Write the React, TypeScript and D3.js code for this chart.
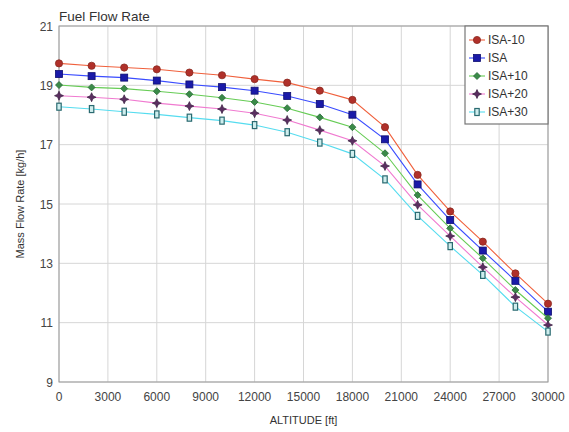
import React from "react";
import * as d3 from "d3";

const altitudes = [0, 2000, 4000, 6000, 8000, 10000, 12000, 14000, 16000, 18000, 20000, 22000, 24000, 26000, 28000, 30000];
const isaM10 = [19.74, 19.66, 19.6, 19.54, 19.43, 19.34, 19.21, 19.09, 18.82, 18.51, 17.59, 15.98, 14.75, 13.73, 12.66, 11.64];
const isa = [19.38, 19.31, 19.26, 19.16, 19.03, 18.94, 18.82, 18.64, 18.37, 18.01, 17.18, 15.66, 14.46, 13.43, 12.41, 11.37];
const isaP10 = [19.01, 18.93, 18.89, 18.8, 18.7, 18.58, 18.44, 18.23, 17.92, 17.59, 16.71, 15.3, 14.18, 13.17, 12.1, 11.15];
const isaP20 = [18.65, 18.6, 18.53, 18.4, 18.3, 18.2, 18.06, 17.83, 17.49, 17.13, 16.28, 14.97, 13.92, 12.87, 11.86, 10.92];
const isaP30 = [18.28, 18.2, 18.11, 18.02, 17.91, 17.81, 17.66, 17.42, 17.07, 16.69, 15.83, 14.6, 13.58, 12.61, 11.54, 10.7];
const seriesNames = ["ISA-10", "ISA", "ISA+10", "ISA+20", "ISA+30"];
const xTicks = [0, 3000, 6000, 9000, 12000, 15000, 18000, 21000, 24000, 27000, 30000];
const yTicks = [9, 11, 13, 15, 17, 19, 21];

const seriesData = [isaM10, isa, isaP10, isaP20, isaP30];
const lineColors = ["#f0603c", "#3a4cff", "#66cc55", "#f07ad0", "#55dcef"];
const markerFill = ["#b0302a", "#1a1aa8", "#3a8a48", "#5a2e60", "#4a9aa0"];
const markerStroke = ["#8a2a20", "#0e0e70", "#2a6a38", "#3a1e40", "#2a6a70"];
const markerTypes = ["circle", "square", "diamond", "star", "rect"];

function Marker({ type, x, y, fill, stroke }: { type: string; x: number; y: number; fill: string; stroke: string }) {
  if (type === "circle") return <circle cx={x} cy={y} r={3.6} fill={fill} stroke={stroke} strokeWidth={0.8} />;
  if (type === "square") return <rect x={x - 3.5} y={y - 3.5} width={7} height={7} fill={fill} stroke={stroke} strokeWidth={0.8} />;
  if (type === "diamond") {
    const s = 3.5;
    return <path d={`M${x},${y - s}L${x + s},${y}L${x},${y + s}L${x - s},${y}Z`} fill={fill} stroke={stroke} strokeWidth={0.8} />;
  }
  if (type === "star") {
    const o = 4.5, i = 1.4;
    const d = `M${x},${y - o}L${x + i},${y - i}L${x + o},${y}L${x + i},${y + i}L${x},${y + o}L${x - i},${y + i}L${x - o},${y}L${x - i},${y - i}Z`;
    return <path d={d} fill={fill} stroke={stroke} strokeWidth={0.7} />;
  }
  return <rect x={x - 2.2} y={y - 3.5} width={4.4} height={7} fill="#cfeeee" stroke={stroke} strokeWidth={1.2} />;
}

export default function App() {
  const W = 569, H = 432;
  const m = { left: 59, right: 548, top: 26, bottom: 382 };
  const x = d3.scaleLinear().domain([0, 30000]).range([m.left, m.right]);
  const y = d3.scaleLinear().domain([9, 21]).range([m.bottom, m.top]);
  const line = d3.line<[number, number]>().x((d) => x(d[0])).y((d) => y(d[1]));
  const font = "'Liberation Sans', Arial, sans-serif";

  return (
    <svg width={W} height={H} style={{ position: "absolute", left: 0, top: 0, background: "#fff" }} fontFamily={font}>
      <rect x={0} y={0} width={W} height={H} fill="#fff" />
      {xTicks.map((t) => (
        <line key={"gx" + t} x1={x(t)} x2={x(t)} y1={m.top} y2={m.bottom} stroke="#d6d6d6" strokeWidth={1} />
      ))}
      {yTicks.map((t) => (
        <line key={"gy" + t} x1={m.left} x2={m.right} y1={y(t)} y2={y(t)} stroke="#d6d6d6" strokeWidth={1} />
      ))}
      <rect x={m.left} y={m.top} width={m.right - m.left} height={m.bottom - m.top} fill="none" stroke="#999" strokeWidth={1} />
      {xTicks.map((t) => (
        <text key={"tx" + t} x={x(t)} y={m.bottom + 19} textAnchor="middle" fontSize={12} fill="#444">{t}</text>
      ))}
      {yTicks.map((t) => (
        <text key={"ty" + t} x={m.left - 6} y={y(t) + 4.5} textAnchor="end" fontSize={12} fill="#444">{t}</text>
      ))}
      <text x={m.left} y={m.top - 5} fontSize={13.5} fill="#333">Fuel Flow Rate</text>
      <text x={(m.left + m.right) / 2} y={424} textAnchor="middle" fontSize={11} fill="#333">ALTITUDE [ft]</text>
      <text transform={`translate(24,${(m.top + m.bottom) / 2}) rotate(-90)`} textAnchor="middle" fontSize={11} fill="#333">Mass Flow Rate [kg/h]</text>
      {seriesData.map((vals, i) => {
        const pts = altitudes.map((a, j) => [a, vals[j]] as [number, number]);
        return (
          <g key={"s" + i}>
            <path d={line(pts)!} fill="none" stroke={lineColors[i]} strokeWidth={1.1} />
            {pts.map((p, j) => (
              <Marker key={j} type={markerTypes[i]} x={x(p[0])} y={y(p[1])} fill={markerFill[i]} stroke={markerStroke[i]} />
            ))}
          </g>
        );
      })}
      <g>
        <rect x={465} y={26} width={83} height={98} fill="#fff" stroke="#777" strokeWidth={1.2} />
        {seriesNames.map((n, i) => {
          const ly = 40 + i * 18;
          return (
            <g key={"l" + i}>
              <line x1={469} x2={485} y1={ly} y2={ly} stroke={lineColors[i]} strokeWidth={1.1} />
              <Marker type={markerTypes[i]} x={477} y={ly} fill={markerFill[i]} stroke={markerStroke[i]} />
              <text x={488} y={ly + 4} fontSize={12} fill="#333">{n}</text>
            </g>
          );
        })}
      </g>
    </svg>
  );
}
